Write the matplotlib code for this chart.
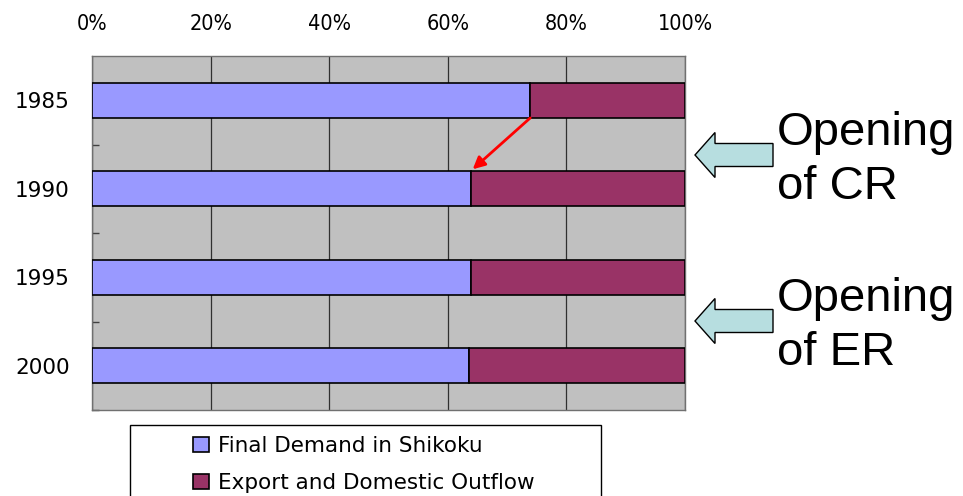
import matplotlib
matplotlib.use('Agg')
import matplotlib.pyplot as plt
import matplotlib.patches as mpatches
import numpy as np

# shares of final demand vs outflow (percent)
years = ['1985', '1990', '1995', '2000']
final_demand = [73.9, 63.9, 63.9, 63.6]
outflow = [26.1, 36.1, 36.1, 36.4]
series_names = ['Final Demand in Shikoku', 'Export and Domestic Outflow']
xticks = [0, 20, 40, 60, 80, 100]
notes = ['Opening\nof CR', 'Opening\nof ER']

W, H = 963, 496


def px(x, y):
    """Pixel position (top-left origin) to figure fraction."""
    return x / W, 1 - y / H


fig = plt.figure(figsize=(W / 100, H / 100), dpi=100)
ax = fig.add_axes([92 / W, 1 - 410 / H, 593 / W, 354 / H])
ax.set_facecolor('#C0C0C0')

ypos = np.arange(len(years))
ax.barh(ypos, final_demand, height=0.4, color='#9999FF', edgecolor='black',
        linewidth=1.2, label=series_names[0], zorder=3)
ax.barh(ypos, outflow, left=final_demand, height=0.4, color='#993366',
        edgecolor='black', linewidth=1.2, label=series_names[1], zorder=3)

ax.set_xlim(0, 100)
ax.set_ylim(len(years) - 0.5, -0.5)
ax.set_xticks(xticks)
ax.set_xticklabels(['%d%%' % t for t in xticks], fontsize=15.5,
                   fontstretch='condensed')
ax.xaxis.tick_top()
ax.tick_params(axis='x', length=0, pad=15.5)
ax.set_yticks(ypos)
ax.set_yticklabels(years, fontsize=15.5)
ax.tick_params(axis='y', which='major', length=0, pad=16)
ax.set_yticks(ypos + 0.5, minor=True)
ax.tick_params(axis='y', which='minor', direction='in', length=5,
               color='#404040', width=1)
ax.grid(axis='x', color='#303030', linewidth=0.9, zorder=1)
for s in ax.spines.values():
    s.set_color('#707070')
    s.set_linewidth(1.0)

# red arrow showing the drop between 1985 and 1990
ax.annotate('', xy=(final_demand[1] + 0.3, 1 - 0.22),
            xytext=(final_demand[0], 0 + 0.2),
            arrowprops=dict(arrowstyle='-|>', color='red', lw=2,
                            mutation_scale=18, shrinkA=0, shrinkB=0),
            zorder=5)

# block arrows and notes on the right
for yc, txt in zip([155, 321], notes):
    x0, y0 = px(773, yc)
    x1, _ = px(695, yc)
    arr = mpatches.FancyArrow(x0, y0, x1 - x0, 0, width=23 / H,
                              head_width=45 / H, head_length=20 / W,
                              length_includes_head=True,
                              transform=fig.transFigure,
                              facecolor='#B7DEE0', edgecolor='black',
                              linewidth=1.0)
    fig.patches.append(arr)
    tx, ty = px(777, yc + 5)
    fig.text(tx, ty, txt, fontsize=34, family='Liberation Sans',
             ha='left', va='center', linespacing=1.32)

# legend box (runs off the bottom edge)
bx, by = px(130, 530)
bw = (601 - 130) / W
bh = (530 - 425) / H
fig.patches.append(mpatches.Rectangle((bx, by), bw, bh,
                                      transform=fig.transFigure,
                                      facecolor='white', edgecolor='black',
                                      linewidth=1.0))
lx, ly = px(193, 436)
fig.legend(loc='upper left', bbox_to_anchor=(lx, ly), frameon=False,
           fontsize=15.5, borderpad=0, borderaxespad=0, handlelength=0.72,
           handleheight=0.72, handletextpad=0.45, labelspacing=0.78)

fig.savefig('out.png', dpi=100)
